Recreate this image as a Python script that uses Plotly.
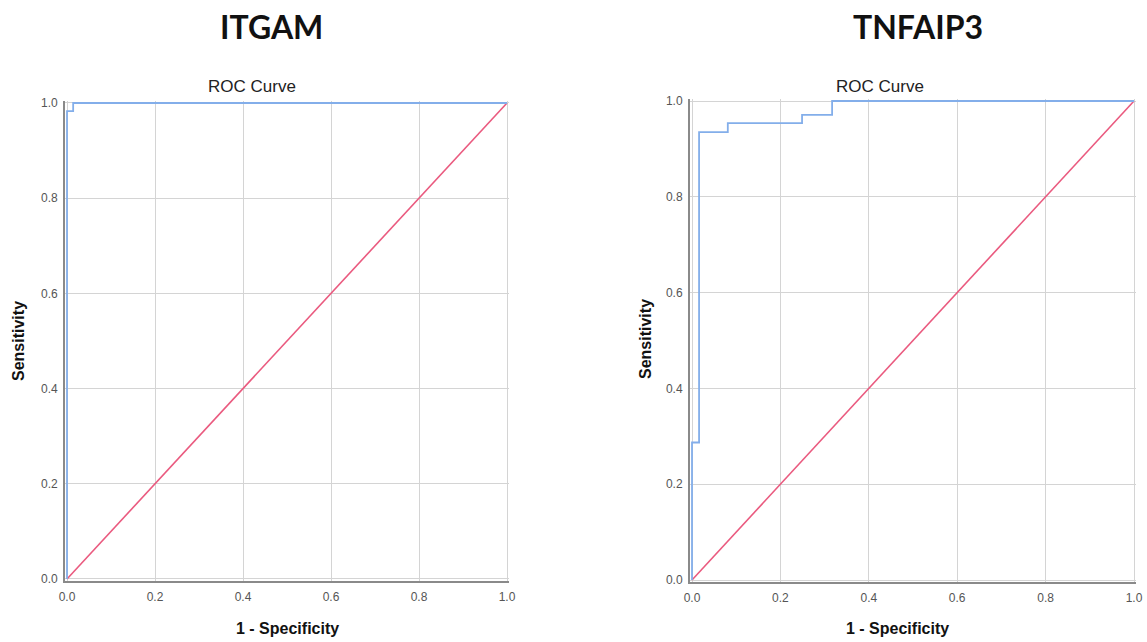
import plotly.graph_objects as go

# ---- data ----
diag = [0.0, 1.0]

itgam_fpr = [0.0, 0.0, 0.014, 0.014, 1.0]
itgam_tpr = [0.0, 0.983, 0.983, 1.0, 1.0]

tnfaip3_fpr = [0.0, 0.0, 0.016, 0.016, 0.081, 0.081, 0.249, 0.249, 0.317, 0.317, 1.0]
tnfaip3_tpr = [0.0, 0.287, 0.287, 0.935, 0.935, 0.954, 0.954, 0.971, 0.971, 1.0, 1.0]

tick_vals = [0.0, 0.2, 0.4, 0.6, 0.8, 1.0]
gene_titles = ["ITGAM", "TNFAIP3"]
sub_title = "ROC Curve"
x_title = "1 - Specificity"
y_title = "Sensitivity"

W, H = 1147, 642
BLUE = "#83aeea"
PINK = "#ea5a7f"
GRID = "#d4d4d4"
AXIS = "#8a8a8a"
PAD_LO, PAD_HI = 0.005, 0.004   # small padding so edge lines are not clipped


def px(x):
    return x / W


def py(y):
    return 1 - y / H


fig = go.Figure()

# panel pixel geometry (window coordinates of data 0 and 1)
panels = [
    dict(x0=67, x1=507, y0=579, y1=103, fpr=itgam_fpr, tpr=itgam_tpr),
    dict(x0=692, x1=1134, y0=580, y1=101, fpr=tnfaip3_fpr, tpr=tnfaip3_tpr),
]

for i, p in enumerate(panels):
    sfx = "" if i == 0 else "2"
    xa, ya = "x" + sfx, "y" + sfx
    fig.add_trace(go.Scatter(x=diag, y=diag, mode="lines",
                             line=dict(color=PINK, width=1.6),
                             xaxis=xa, yaxis=ya, showlegend=False, hoverinfo="skip"))
    fig.add_trace(go.Scatter(x=p["fpr"], y=p["tpr"], mode="lines",
                             line=dict(color=BLUE, width=1.8),
                             xaxis=xa, yaxis=ya, showlegend=False))
    sx = p["x1"] - p["x0"]
    sy = p["y0"] - p["y1"]
    xdom = [px(p["x0"] - PAD_LO * sx), px(p["x1"] + PAD_HI * sx)]
    ydom = [py(p["y0"] + PAD_LO * sy), py(p["y1"] - PAD_HI * sy)]
    common = dict(range=[-PAD_LO, 1 + PAD_HI], tickvals=tick_vals, tickformat=".1f",
                  showgrid=True, gridcolor=GRID, gridwidth=1.2,
                  zeroline=False, showline=True, linecolor=AXIS, linewidth=1.5,
                  ticks="", tickfont=dict(family="Liberation Sans, Arial", size=12, color="#555555"),
                  fixedrange=True, automargin=False)
    fig.layout["xaxis" + sfx] = dict(domain=xdom, anchor=ya, ticklabelstandoff=3, **common)
    fig.layout["yaxis" + sfx] = dict(domain=ydom, anchor=xa, ticklabelstandoff=3, **common)

# text
ann = []
title_pos = [(271, 26), (918, 27)]
roc_pos = [(252, 87), (880, 87)]
xt_pos = [(287, 628), (898, 628)]
yt_pos = [(18, 341), (645, 339)]
for i in range(2):
    ann.append(dict(text=gene_titles[i], x=px(title_pos[i][0]), y=py(title_pos[i][1]),
                    xref="paper", yref="paper", showarrow=False, xanchor="center", yanchor="middle",
                    font=dict(family="Lato", size=32, color="#111111", weight="bold")))
    ann.append(dict(text=sub_title, x=px(roc_pos[i][0]), y=py(roc_pos[i][1]),
                    xref="paper", yref="paper", showarrow=False, xanchor="center", yanchor="middle",
                    font=dict(family="Liberation Sans, Arial", size=17, color="#222222")))
    ann.append(dict(text=x_title, x=px(xt_pos[i][0]), y=py(xt_pos[i][1]),
                    xref="paper", yref="paper", showarrow=False, xanchor="center", yanchor="middle",
                    font=dict(family="Liberation Sans, Arial", size=16, color="#111111", weight="bold")))
    ann.append(dict(text=y_title, x=px(yt_pos[i][0]), y=py(yt_pos[i][1]), textangle=-90,
                    xref="paper", yref="paper", showarrow=False, xanchor="center", yanchor="middle",
                    font=dict(family="Liberation Sans, Arial", size=16, color="#111111", weight="bold")))

fig.update_layout(width=W, height=H, margin=dict(l=0, r=0, t=0, b=0),
                  paper_bgcolor="white", plot_bgcolor="white", annotations=ann)

# remove the page's default body margin so the figure fills the window exactly
fig.write_html("out.html", config={"displayModeBar": False},
               post_script="document.body.style.margin='0';document.body.style.overflow='hidden';")
